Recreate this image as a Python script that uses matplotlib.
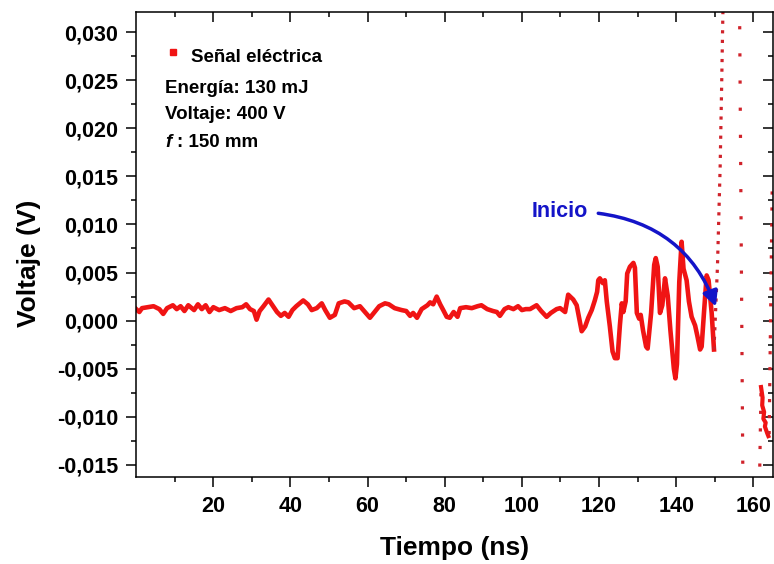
import numpy as np
import matplotlib
matplotlib.use("Agg")
import matplotlib.pyplot as plt
from matplotlib.patches import FancyArrowPatch

# ---------------- data ----------------
# main signal (time in ns, voltage in V)
sig_t = [0.0, 0.8, 1.5, 3.0, 4.5, 6.0, 7.0, 8.0, 9.5, 10.5, 11.5, 12.5, 13.5, 15.0,
         16.0, 17.0, 18.0, 19.0, 20.0, 21.5, 23.0, 24.5, 26.0, 27.5, 28.5, 29.5,
         30.5, 31.2, 32.0, 33.0, 34.3, 35.3, 36.5, 37.5, 38.5, 39.5, 40.5, 41.5,
         43.3, 44.5, 45.5, 46.8, 48.1, 49.0, 50.2, 51.5, 52.5, 54.0, 55.0, 56.5,
         58.0, 59.5, 60.6, 61.8, 63.0, 64.5, 65.5, 67.0, 68.8, 70.0, 71.0, 71.8,
         72.8, 74.0, 75.5, 76.2, 77.0, 77.9, 78.8, 79.6, 80.5, 81.3, 82.3, 83.3,
         84.0, 85.5, 87.0, 88.5, 89.5, 91.0, 92.5, 93.5, 94.3, 95.5, 96.5, 97.8,
         99.0, 100.0, 101.0, 102.1, 103.8, 105.0, 106.4, 107.5, 109.0, 109.9,
         111.2, 112.0, 113.3, 114.2, 115.5, 116.4, 117.2, 118.1, 118.9, 119.5,
         119.8, 120.2, 121.0, 121.5, 122.0, 122.8, 123.5, 124.1, 124.8, 125.4,
         125.9, 126.3, 126.9, 127.3, 128.0, 128.9, 129.3, 129.8, 130.4, 130.8,
         131.4, 132.2, 132.6, 133.5, 134.3, 134.7, 135.2, 135.8, 136.4, 137.1,
         137.8, 138.5, 139.4, 139.8, 140.2, 140.8, 141.4, 141.9, 142.7, 143.3,
         144.0, 144.9, 145.5, 146.2, 146.6, 147.2, 147.9, 148.4, 149.2, 149.8]
sig_v = [0.0012, 0.0009, 0.0013, 0.0014, 0.0015, 0.0012, 0.0007, 0.0013, 0.0016,
         0.0012, 0.0015, 0.0010, 0.0016, 0.0011, 0.0017, 0.0012, 0.0016, 0.0009,
         0.0014, 0.0011, 0.0013, 0.0010, 0.0013, 0.0014, 0.0017, 0.0012, 0.0010,
         0.0001, 0.0010, 0.0015, 0.0022, 0.0016, 0.0009, 0.0005, 0.0008, 0.0004,
         0.0011, 0.0015, 0.0021, 0.0017, 0.0011, 0.0013, 0.0018, 0.0011, 0.0003,
         0.0006, 0.0018, 0.0020, 0.0019, 0.0013, 0.0015, 0.0008, 0.0003, 0.0009,
         0.0015, 0.0018, 0.0017, 0.0013, 0.0011, 0.0010, 0.0005, 0.0008, 0.0003,
         0.0012, 0.0016, 0.0019, 0.0017, 0.0025, 0.0017, 0.0011, 0.0004, 0.0003,
         0.0009, 0.0004, 0.0013, 0.0014, 0.0013, 0.0015, 0.0016, 0.0012, 0.0010,
         0.0009, 0.0005, 0.0012, 0.0014, 0.0012, 0.0015, 0.0011, 0.0012, 0.0012,
         0.0016, 0.0010, 0.0004, 0.0008, 0.0012, 0.0013, 0.0009, 0.0027, 0.0022,
         0.0016, -0.0011, -0.0006, 0.0003, 0.0011, 0.0021, 0.0030, 0.0042, 0.0044,
         0.0039, 0.0042, 0.0020, -0.0006, -0.0032, -0.0039, -0.0039, -0.0005,
         0.0018, 0.0009, 0.0020, 0.0049, 0.0056, 0.0060, 0.0055, 0.0008, 0.0002,
         0.0006, -0.0010, -0.0027, -0.0029, 0.0008, 0.0058, 0.0065, 0.0056, 0.0008,
         0.0016, 0.0044, 0.0026, -0.0010, -0.0050, -0.0060, -0.0045, 0.0040, 0.0082,
         0.0054, 0.0042, 0.0020, 0.0004, -0.0005, -0.0016, -0.0030, -0.0027, 0.0008,
         0.0047, 0.0042, 0.0008, -0.0030]

# fast transients (sparse samples -> drawn dotted)
rise_t = [149.8, 150.7, 151.4, 151.8, 152.1, 152.3]
rise_v = [-0.0030, 0.0056, 0.0160, 0.0247, 0.0318, 0.0345]
fall_t = [156.4, 157.3]
fall_v = [0.0345, -0.0170]
up2_t = [161.6, 162.0]
up2_v = [-0.0170, -0.0069]
clus_t = [162.0, 162.4, 162.3, 162.8, 162.6, 163.2, 163.0, 163.6, 163.9]
clus_v = [-0.0069, -0.0080, -0.0088, -0.0095, -0.0102, -0.0106, -0.0110, -0.0117, -0.0120]
up3_t = [164.1, 164.9]
up3_v = [-0.0118, 0.0140]

x_ticks = [20, 40, 60, 80, 100, 120, 140, 160]
x_minor = [10, 30, 50, 70, 90, 110, 130, 150]
y_ticks = [-0.015, -0.010, -0.005, 0.000, 0.005, 0.010, 0.015, 0.020, 0.025, 0.030]
y_labels = ["-0,015", "-0,010", "-0,005", "0,000", "0,005", "0,010", "0,015",
            "0,020", "0,025", "0,030"]
y_minor = [-0.0125, -0.0075, -0.0025, 0.0025, 0.0075, 0.0125, 0.0175, 0.0225, 0.0275]

legend_label = "Señal eléctrica"
info_lines = ["Energía: 130 mJ", "Voltaje: 400 V"]

# ---------------- figure ----------------
plt.rcParams['font.family'] = ['Liberation Sans', 'DejaVu Sans']
plt.rcParams['font.weight'] = 'bold'

fig = plt.figure(figsize=(7.74, 5.64), dpi=100)
ax = fig.add_axes([0.176, 0.1534, 0.8227, 0.826])

RED = '#f01414'
DRED = '#d0222a'

ax.plot(sig_t, sig_v, color=RED, lw=3.3, solid_joinstyle='round')
ax.plot(rise_t, rise_v, color=DRED, lw=2.3, linestyle=(0, (1, 2.0)))
ax.plot(fall_t, fall_v, color=DRED, lw=2.3, linestyle=(0, (1, 7.5)))
ax.plot(up2_t, up2_v, color=DRED, lw=2.3, linestyle=(0, (1, 4.5)))
ax.plot(clus_t, clus_v, color=RED, lw=3.0)
ax.plot(up3_t, up3_v, color=DRED, lw=2.3, linestyle=(0, (1, 4.0)))

ax.set_xlim(0, 165.1)
ax.set_ylim(-0.0163, 0.03212)

ax.set_xticks(x_ticks)
ax.set_xticklabels([str(v) for v in x_ticks])
ax.set_xticks(x_minor, minor=True)
ax.set_yticks(y_ticks)
ax.set_yticklabels(y_labels)
ax.set_yticks(y_minor, minor=True)

for s in ax.spines.values():
    s.set_linewidth(1.1)
    s.set_zorder(6)

ax.tick_params(axis='both', which='major', length=7.2, width=1.1, labelsize=15.5, pad=6)
ax.tick_params(axis='both', which='minor', length=3.8, width=1.1)
ax.tick_params(axis='both', which='both', top=True, right=True,
               labeltop=False, labelright=False)
ax.tick_params(axis='x', which='both', direction='out')
ax.tick_params(axis='y', which='both', direction='out')
for t in ax.xaxis.get_major_ticks() + ax.xaxis.get_minor_ticks():
    t.tick2line.set_marker(3)  # inward from top
for t in ax.yaxis.get_major_ticks() + ax.yaxis.get_minor_ticks():
    t.tick2line.set_marker(0)  # inward from right

for lab in ax.get_xticklabels() + ax.get_yticklabels():
    lab.set_fontweight('bold')

ax.set_xlabel("Tiempo (ns)", fontsize=19, fontweight='bold')
ax.set_ylabel("Voltaje (V)", fontsize=19, fontweight='bold')
ax.xaxis.set_label_coords(0.5006, -0.125)
ax.yaxis.set_label_coords(-0.150, 0.46)

# legend-like annotations
ax.plot([0.0578], [0.9125], marker='s', ms=5, color=RED, transform=ax.transAxes,
        clip_on=False, linestyle='none')
ax.text(0.086, 0.8927, legend_label, transform=ax.transAxes, fontsize=13.5,
        fontweight='bold', va='baseline', ha='left')
ax.text(0.0452, 0.826, info_lines[0], transform=ax.transAxes, fontsize=13.5,
        fontweight='bold', va='baseline', ha='left')
ax.text(0.0452, 0.769, info_lines[1], transform=ax.transAxes, fontsize=13.5,
        fontweight='bold', va='baseline', ha='left')
ax.text(0.0452, 0.709, "f", transform=ax.transAxes, fontsize=13.5,
        fontweight='bold', style='italic', va='baseline', ha='left')
ax.text(0.0633, 0.709, ": 150 mm", transform=ax.transAxes, fontsize=13.5,
        fontweight='bold', va='baseline', ha='left')

# "Inicio" arrow
BLUE = '#1414c8'
ax.text(0.621, 0.56, "Inicio", transform=ax.transAxes, fontsize=15.5,
        fontweight='bold', color=BLUE, va='baseline', ha='left')
arrow = FancyArrowPatch((119.8, 0.01116), (150.3, 0.00146),
                        connectionstyle="arc3,rad=-0.3",
                        arrowstyle="-|>,head_length=9,head_width=4.5",
                        color=BLUE, lw=2.5, transform=ax.transData,
                        shrinkA=0, shrinkB=0, zorder=5)
ax.add_patch(arrow)

fig.savefig("out.png", dpi=100)
